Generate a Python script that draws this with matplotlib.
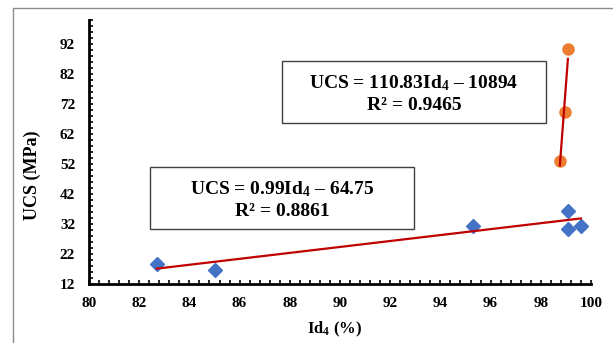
import matplotlib.pyplot as plt
import matplotlib as mpl
from matplotlib.patches import Rectangle
from matplotlib.ticker import MultipleLocator
import numpy as np

mpl.rcParams['font.family'] = ['Liberation Serif', 'DejaVu Serif']
mpl.rcParams['font.weight'] = 'bold'
mpl.rcParams['mathtext.fontset'] = 'custom'
mpl.rcParams['mathtext.rm'] = 'Liberation Serif:bold'
mpl.rcParams['mathtext.it'] = 'Liberation Serif:bold'
mpl.rcParams['mathtext.bf'] = 'Liberation Serif:bold'

# Id4 (%) vs UCS (MPa), two groups of samples
id4_low = [82.7, 85.0, 95.3, 99.1, 99.1, 99.6]
ucs_low = [18.7, 16.6, 31.3, 36.3, 30.3, 31.3]
id4_high = [98.76, 98.97, 99.08]
ucs_high = [53.0, 69.3, 90.4]

# linear trend lines (slope, intercept) and R^2
fit_low = (0.99, -64.75, 0.8861)
fit_high = (110.83, -10894, 0.9465)

fig = plt.figure(figsize=(6.13, 3.43), dpi=100, facecolor='w')
ax = fig.add_axes([0.1452, 0.172, 0.8189, 0.7697])

# grey frame around the chart area
fig.patches.append(Rectangle((13 / 613, -0.1), 1.2, 1 - 7.5 / 343 + 0.1,
                             transform=fig.transFigure, fill=False,
                             edgecolor='#8c8c8c', linewidth=1.0))

ax.plot(id4_low, ucs_low, linestyle='none', marker='D', markersize=7,
        color='#4472C4', zorder=3)
ax.plot(id4_high, ucs_high, linestyle='none', marker='o', markersize=8,
        color='#ED7D31', zorder=3)

# trend lines drawn from the stated equations
for xs, (a, b, r2) in [(id4_low, fit_low), (id4_high, fit_high)]:
    xx = np.array([min(xs), max(xs)])
    ax.plot(xx, a * xx + b, color='#C00000', linewidth=1.6, zorder=4)

ax.set_xlim(80, 100)
ax.set_ylim(12, 100)
ax.set_xticks(np.arange(80, 101, 2))
ax.set_yticks(np.arange(12, 93, 10))
ax.xaxis.set_minor_locator(MultipleLocator(0.4))
ax.yaxis.set_minor_locator(MultipleLocator(2))
ax.tick_params(which='both', direction='in', length=3, width=1.2,
               labelsize=11)
ax.tick_params(axis='y', pad=10)
ax.tick_params(axis='x', pad=9)
for s in ['top', 'right']:
    ax.spines[s].set_visible(False)
for s in ['left', 'bottom']:
    ax.spines[s].set_linewidth(2)

ax.set_xlabel('Id$_4$ (%)', fontsize=12, fontweight='bold')
ax.set_ylabel('UCS (MPa)', fontsize=13, fontweight='bold')
ax.xaxis.set_label_coords(0.49, -0.136)
ax.yaxis.set_label_coords(-0.095, 0.413)

# equation boxes
boxes = [
    (0.3845, 0.610, 0.5255, 0.235, fit_high, '110.83', '10894'),
    (0.1215, 0.208, 0.5255, 0.236, fit_low, '0.99', '64.75'),
]
for x0, y0, w, h, fit, a_txt, b_txt in boxes:
    ax.add_patch(Rectangle((x0, y0), w, h, transform=ax.transAxes,
                           facecolor='white', edgecolor='#404040',
                           linewidth=1.0, zorder=5))
    cx = x0 + w / 2
    ax.text(cx, y0 + h * 0.64, 'UCS = ' + a_txt + 'Id$_4$ \u2013 ' + b_txt,
            transform=ax.transAxes, ha='center', va='center',
            fontsize=14, fontweight='bold', zorder=6)
    ax.text(cx, y0 + h * 0.28, 'R\u00b2 = ' + str(fit[2]),
            transform=ax.transAxes, ha='center', va='center',
            fontsize=14, fontweight='bold', zorder=6)

fig.savefig('out.png', dpi=100)
